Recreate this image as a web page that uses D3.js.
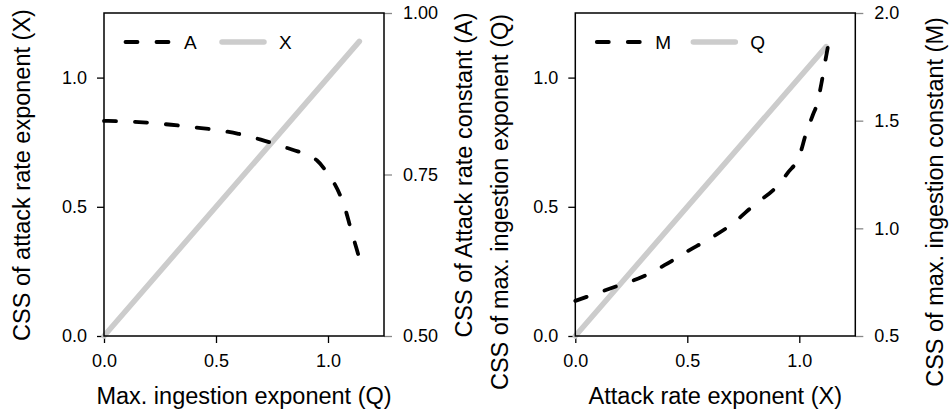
<!DOCTYPE html>
<html>
<head>
<meta charset="utf-8">
<script src="https://cdn.jsdelivr.net/npm/d3@7"></script>
<style>
  body { margin: 0; background: #fff; }
  svg text { font-family: "Liberation Sans", Arial, Helvetica, sans-serif; fill: #000; }
</style>
</head>
<body>
<div id="container"></div>
<script>
// ---- data ----
// left panel: x = max. ingestion exponent (Q)
const qValues = [0, 0.1, 0.2, 0.3, 0.4, 0.5, 0.6, 0.7, 0.8, 0.9, 0.95, 1.0, 1.03, 1.06, 1.08, 1.1, 1.12, 1.14, 1.15]
const aValues = [0.833, 0.832, 0.830, 0.827, 0.823, 0.819, 0.813, 0.804, 0.793, 0.781, 0.772, 0.751, 0.735, 0.713, 0.693, 0.668, 0.644, 0.620, 0.607]
const xLineQ = [0, 1.14]          // CSS of X follows Q (X = Q)
// right panel: x = attack rate exponent (X)
const xValues = [0, 0.1, 0.2, 0.3, 0.4, 0.5, 0.6, 0.7, 0.8, 0.9, 0.95, 1.0, 1.03, 1.06, 1.08, 1.1, 1.12, 1.138]
const mValues = [0.663, 0.700, 0.737, 0.775, 0.830, 0.893, 0.952, 1.02, 1.11, 1.195, 1.26, 1.335, 1.44, 1.525, 1.58, 1.68, 1.80, 1.90]
const qLineX = [0, 1.12]          // CSS of Q follows X (Q = X)

const bottomTicks = [0, 0.5, 1.0]
const leftTicks = [0, 0.5, 1.0]
const rightTicksA = [0.5, 0.75, 1.0]
const rightTicksM = [0.5, 1.0, 1.5, 2.0]

const panels = [
  {
    left: 104, centerY: 175, rightDomain: [0.5, 1.0], rightTicks: rightTicksA, rightFmt: ".2f",
    xTitle: "Max. ingestion exponent (Q)",
    yTitle: "CSS of attack rate exponent (X)", yTitleX: 30,
    rTitle: "CSS of Attack rate constant (A)", rTitleX: 472,
    dashed: qValues.map((q, i) => [q, aValues[i]]),
    solid: xLineQ.map(v => [v, v]),
    legend: ["A", "X"]
  },
  {
    left: 575.3, centerY: 202, rightDomain: [0.5, 2.0], rightTicks: rightTicksM, rightFmt: ".1f",
    xTitle: "Attack rate exponent (X)",
    yTitle: "CSS of max. ingestion exponent (Q)", yTitleX: 508,
    rTitle: "CSS of max. ingestion constant (M)", rTitleX: 943,
    dashed: xValues.map((x, i) => [x, mValues[i]]),
    solid: qLineX.map(v => [v, v]),
    legend: ["M", "Q"]
  }
]

var W = 952, H = 413
var plotTop = 13, plotBottom = 336, plotW = 280
var svg = d3.select("#container").append("svg")
            .attr("width", W)
            .attr("height", H)

panels.forEach(function(p){
  var g = svg.append("g")
  var xScale = d3.scaleLinear().domain([0, 1.25]).range([p.left, p.left + plotW])
  var yScale = d3.scaleLinear().domain([0, 1.25]).range([plotBottom, plotTop])
  var rScale = d3.scaleLinear().domain(p.rightDomain).range([plotBottom, plotTop])

  // x axis
  var xAxis = g.append("g")
     .attr("transform", "translate(0," + plotBottom + ")")
     .call(d3.axisBottom(xScale).tickValues(bottomTicks).tickFormat(d3.format(".1f")).tickSize(7).tickPadding(11))
  // left y axis
  var yAxis = g.append("g")
     .attr("transform", "translate(" + p.left + ",0)")
     .call(d3.axisLeft(yScale).tickValues(leftTicks).tickFormat(d3.format(".1f")).tickSize(7).tickPadding(10))
  // right y axis (grey ticks)
  var rAxis = g.append("g")
     .attr("transform", "translate(" + (p.left + plotW) + ",0)")
     .call(d3.axisRight(rScale).tickValues(p.rightTicks).tickFormat(d3.format(p.rightFmt)).tickSize(8).tickPadding(11))

  g.selectAll(".domain").remove()
  xAxis.selectAll(".tick line").attr("stroke", "#000").attr("stroke-width", 1.3)
  yAxis.selectAll(".tick line").attr("stroke", "#000").attr("stroke-width", 1.3)
  rAxis.selectAll(".tick line").attr("stroke", "#888").attr("stroke-width", 1.3)
  g.selectAll(".tick text").attr("font-size", "18px").attr("fill", "#111")
   .style("font-family", "'Liberation Sans', Arial, sans-serif")

  // solid grey line
  var line = d3.line().x(d => xScale(d[0])).y(d => yScale(d[1]))
  g.append("path")
   .attr("d", line(p.solid))
   .attr("fill", "none")
   .attr("stroke", "#cccccc")
   .attr("stroke-width", 5.5)
   .attr("stroke-linecap", "round")

  // dashed curve on the right-hand axis
  var curve = d3.line().x(d => xScale(d[0])).y(d => rScale(d[1])).curve(d3.curveMonotoneX)
  g.append("path")
   .attr("d", curve(p.dashed))
   .attr("fill", "none")
   .attr("stroke", "#000")
   .attr("stroke-width", 3.8)
   .attr("stroke-dasharray", "12,19")
   .attr("stroke-linecap", "round")

  // box
  g.append("rect")
   .attr("x", p.left).attr("y", plotTop)
   .attr("width", plotW).attr("height", plotBottom - plotTop)
   .attr("fill", "none").attr("stroke", "#000").attr("stroke-width", 1.5)

  // legend
  var ly = 42
  var lg = g.append("g").attr("transform", "translate(" + p.left + "," + ly + ")")
  lg.append("line").attr("x1", 21.5).attr("x2", 65.5).attr("y1", 0).attr("y2", 0)
    .attr("stroke", "#000").attr("stroke-width", 3.8)
    .attr("stroke-dasharray", "12,19").attr("stroke-linecap", "round")
  lg.append("text").attr("x", 80).attr("y", 0).attr("dy", "0.35em")
    .attr("font-size", "19px").text(p.legend[0])
  lg.append("line").attr("x1", 118).attr("x2", 160).attr("y1", 0).attr("y2", 0)
    .attr("stroke", "#cccccc").attr("stroke-width", 5.5).attr("stroke-linecap", "round")
  lg.append("text").attr("x", 175).attr("y", 0).attr("dy", "0.35em")
    .attr("font-size", "19px").text(p.legend[1])

  // titles
  g.append("text")
   .attr("x", p.left + plotW / 2).attr("y", 404)
   .attr("text-anchor", "middle").attr("font-size", "23.5px")
   .text(p.xTitle)
  g.append("text")
   .attr("transform", "translate(" + p.yTitleX + "," + p.centerY + ") rotate(-90)")
   .attr("text-anchor", "middle").attr("font-size", "23.5px")
   .text(p.yTitle)
  g.append("text")
   .attr("transform", "translate(" + p.rTitleX + "," + p.centerY + ") rotate(-90)")
   .attr("text-anchor", "middle").attr("font-size", "23.5px")
   .text(p.rTitle)
})
</script>
</body>
</html>
